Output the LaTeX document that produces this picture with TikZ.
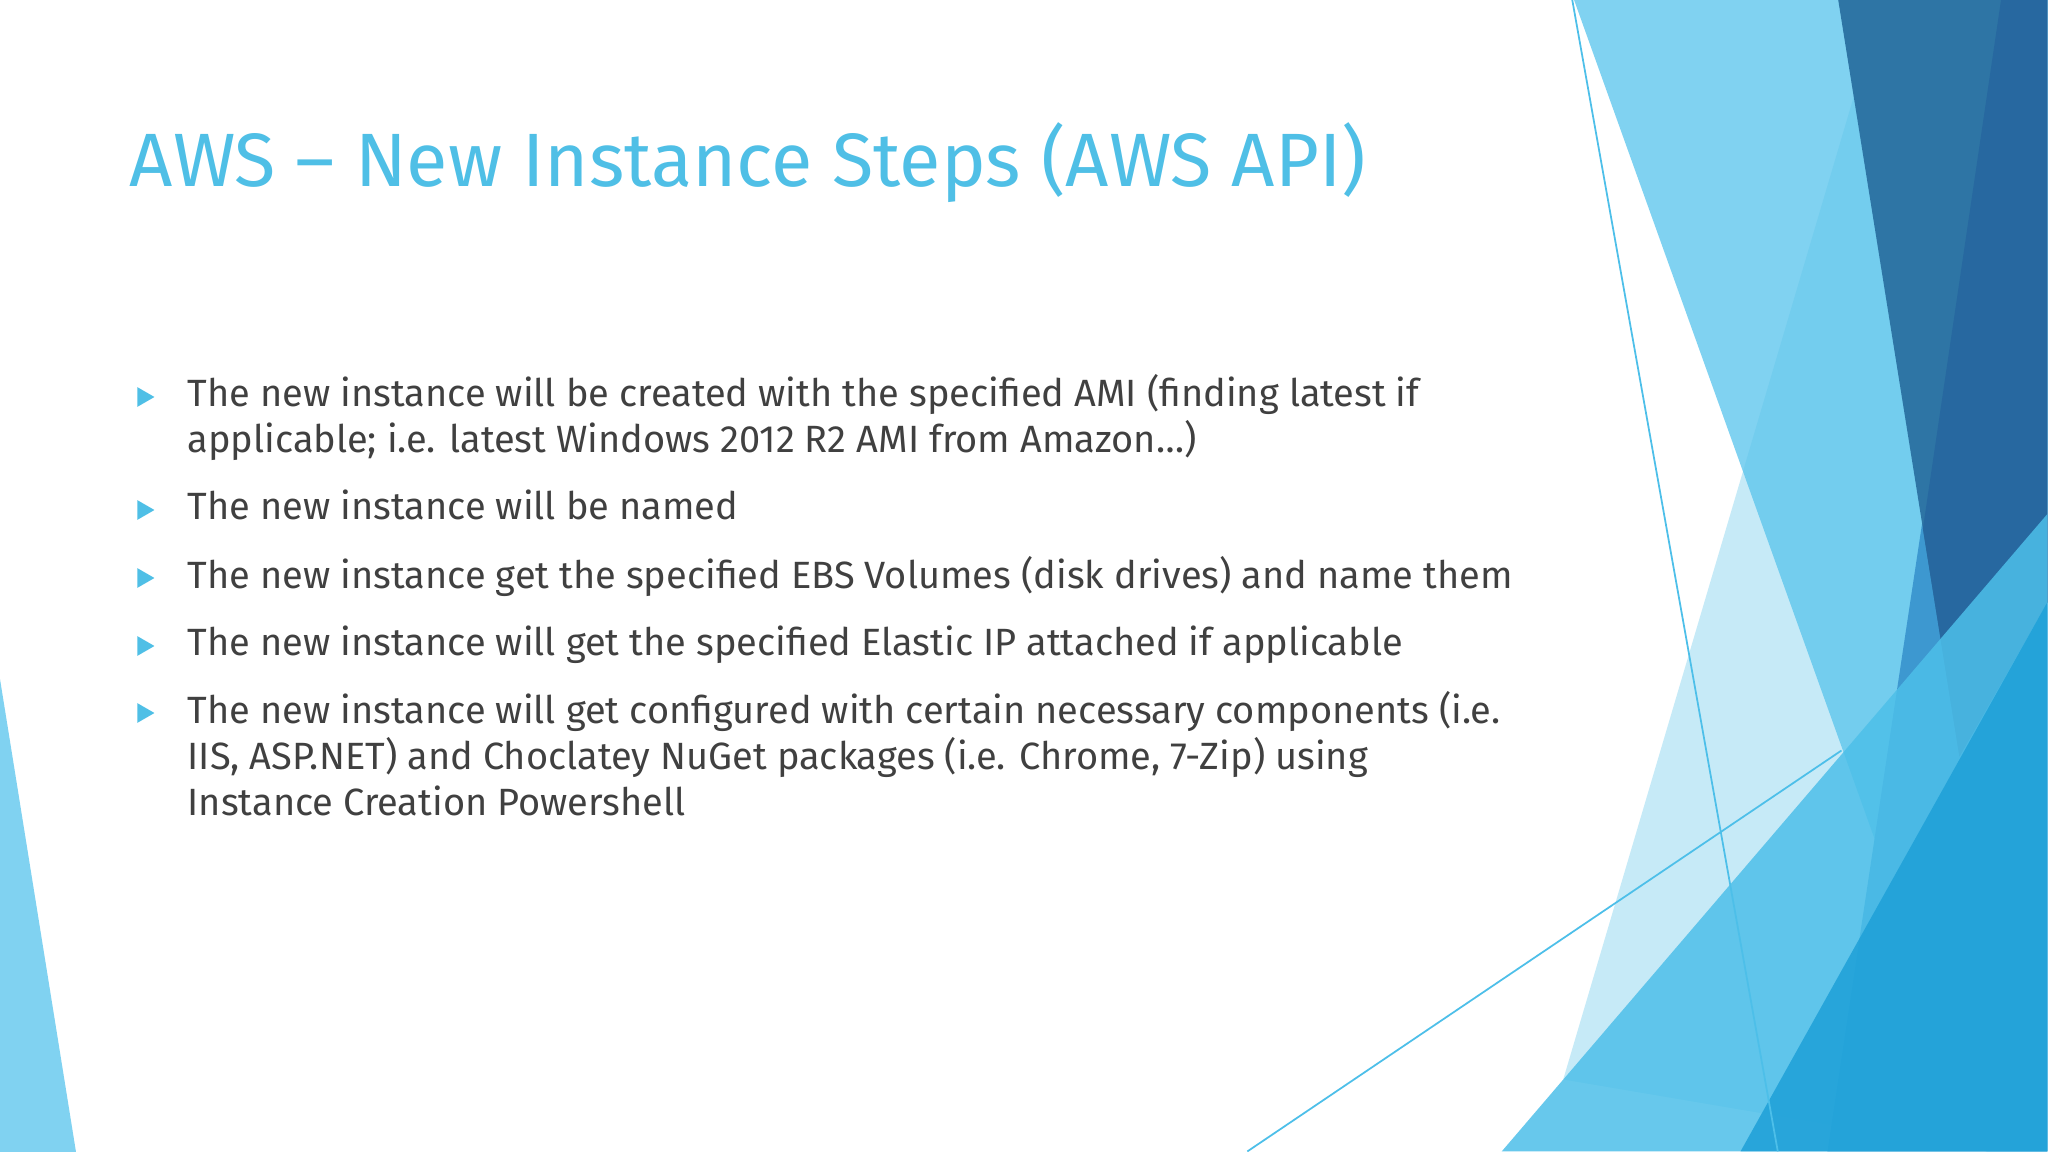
\documentclass[tikz,border=0pt]{standalone}
\usepackage{fontspec}
\setmainfont{Fira Sans}
\definecolor{ttl}{HTML}{4FBFE6}
\definecolor{txt}{HTML}{404040}
\definecolor{lb}{HTML}{80D2F1}
\definecolor{pale}{HTML}{5CC4EA}
\definecolor{dk}{HTML}{2E75A5}
\definecolor{dkk}{HTML}{2768A0}
\definecolor{mid}{HTML}{3D98D0}
\definecolor{bb}{HTML}{4DBFE9}
\definecolor{br}{HTML}{1EA0D8}
\tikzset{line/.style={anchor=base west,text=txt,font=\fontsize{10.8}{13}\selectfont,inner sep=0pt},
 bul/.style={fill=ttl,regular polygon,regular polygon sides=3,shape border rotate=-90,inner sep=0pt,minimum size=6.5pt}}
\usetikzlibrary{shapes.geometric}
\begin{document}
\begin{tikzpicture}[x=0.01cm,y=-0.01cm]
\useasboundingbox[fill=white] (0,0) rectangle (2048,1152);
\fill[lb] (0,679) -- (76,1152) -- (0,1152) -- cycle;
\begin{scope}[shift={(1480,0)},x=0.003623cm,y=-0.007347cm]
\fill[lb] (260,0) -- (1568,0) -- (1568,1568) -- (1400,1568) -- cycle;
\fill[pale,opacity=0.35] (1040,120) -- (230,1470) -- (1400,1568) -- (1568,1568) -- (1568,0)-- cycle;
\fill[mid] (1440,0) -- (1568,0) -- (1568,1568) -- (960,1568) -- cycle;
\fill[dk] (990,0) -- (1568,0) -- (1568,820) -- (1325,1030) -- cycle;
\fill[dkk] (1440,0) -- (1568,0) -- (1568,820) -- (1325,1030) -- (1224,720) -- cycle;
\fill[bb,opacity=0.85] (60,1568) -- (1568,700) -- (1568,1568) -- cycle;
\fill[br,opacity=0.85] (720,1568) -- (1568,820) -- (1568,1568) -- cycle;
\draw[bb,line width=0.5pt] (255,0) -- (823,1568);
\draw[bb,line width=0.5pt] (-643,1568) -- (999,1022);
\end{scope}
\node[anchor=base west,text=ttl,font=\fontsize{21.5}{26}\selectfont,inner sep=0pt] (title) at (129,187) {AWS – New Instance Steps (AWS API)};
\node[line] (a1) at (187,407) {The new instance will be created with the specified AMI (finding latest if};
\node[line] (a2) at (187,453) {applicable; i.e. latest Windows 2012 R2 AMI from Amazon…)};
\node[line] (b1) at (187,520) {The new instance will be named};
\node[line] (c1) at (187,588) {The new instance get the specified EBS Volumes (disk drives) and name them};
\node[line] (d1) at (187,656) {The new instance will get the specified Elastic IP attached if applicable};
\node[line] (e1) at (187,723) {The new instance will get configured with certain necessary components (i.e.};
\node[line] (e2) at (187,769) {IIS, ASP.NET) and Choclatey NuGet packages (i.e. Chrome, 7-Zip) using};
\node[line] (e3) at (187,815) {Instance Creation Powershell};
\foreach \n/\y in {p1/407,p2/520,p3/588,p4/656,p5/723}
  \node[bul] (\n) at (143,\y-10) {};
\end{tikzpicture}
\end{document}
